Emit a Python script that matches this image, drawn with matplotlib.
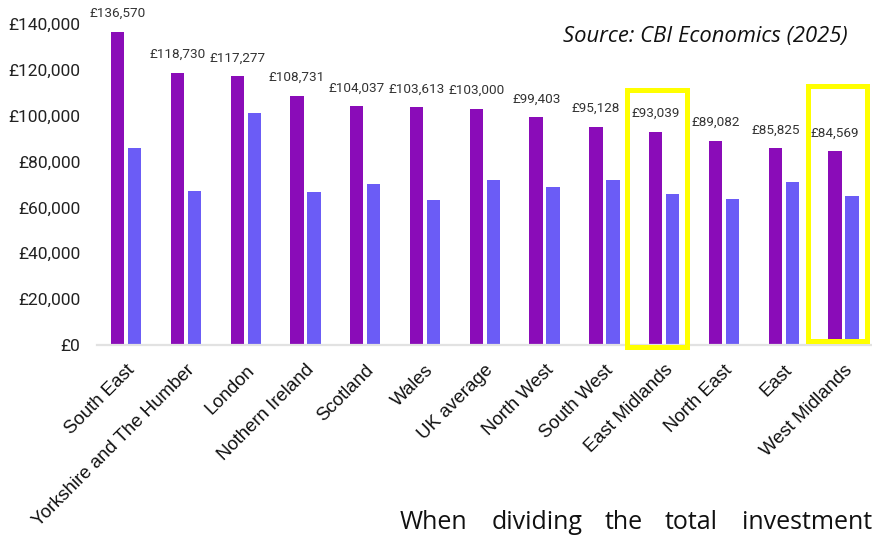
import matplotlib
matplotlib.use("Agg")
import matplotlib.pyplot as plt
from matplotlib.patches import Rectangle
from matplotlib.ticker import FuncFormatter
import numpy as np

# ---- data -------------------------------------------------------------
regions = [
    "South East", "Yorkshire and The Humber", "London", "Nothern Ireland",
    "Scotland", "Wales", "UK average", "North West", "South West",
    "East Midlands", "North East", "East", "West Midlands",
]
values_primary = [136570, 118730, 117277, 108731, 104037, 103613, 103000,
                  99403, 95128, 93039, 89082, 85825, 84569]
values_secondary = [86000, 67000, 101200, 66700, 70200, 63200, 71800,
                    68900, 72100, 66000, 63600, 71200, 64800]
highlighted = ["East Midlands", "West Midlands"]
y_ticks = [0, 20000, 40000, 60000, 80000, 100000, 120000, 140000]

# ---- styling ----------------------------------------------------------
PURPLE = "#8a0cb8"
BLUE = "#6b5cf6"
YELLOW = "#ffff00"
W, H = 872, 541

fig = plt.figure(figsize=(W / 100, H / 100), dpi=100)
fig.patch.set_facecolor("white")

# axes placed in pixel terms: left 97, right 872, baseline 345, top 24
ax = fig.add_axes([97 / W, (H - 345) / H, (872 - 97) / W, (345 - 23.8) / H])

x = np.arange(len(regions))
bw = 0.223
off = 0.142
ax.bar(x - off, values_primary, width=bw, color=PURPLE, zorder=2)
ax.bar(x + off, values_secondary, width=bw, color=BLUE, zorder=2)

ax.set_xlim(-0.488, 12.476)
ax.set_ylim(0, 140000)

# value labels above the first series
for xi, v in zip(x, values_primary):
    ax.annotate(f"£{v:,}", (xi - off, v), xytext=(0, 13),
                textcoords="offset points", ha="center", va="center",
                fontsize=9.7, family="Roboto", color="#333333",
                annotation_clip=False)

# axes cosmetics
for s in ("top", "right", "left"):
    ax.spines[s].set_visible(False)
ax.spines["bottom"].set_color("#e2e2e2")
ax.spines["bottom"].set_linewidth(1.6)

ax.set_yticks(y_ticks)
ax.yaxis.set_major_formatter(FuncFormatter(lambda v, p: f"£{int(v):,}"))
ax.tick_params(axis="y", length=0, pad=12, labelsize=12.5, labelcolor="#222222")
for t in ax.get_yticklabels():
    t.set_family("Roboto")

ax.set_xticks(x)
ax.set_xticklabels(regions)
ax.tick_params(axis="x", length=0, pad=12, labelsize=13.4, labelcolor="#111111")
for t in ax.get_xticklabels():
    t.set_family("Liberation Sans")
    t.set_rotation(45)
    t.set_ha("right")
    t.set_rotation_mode("anchor")

# yellow highlight boxes (left pad, right pad, bottom, top) in data units
box_geom = {
    "East Midlands": (0.622, 0.381, -870, 110940),
    "West Midlands": (0.594, 0.385, 1744, 112690),
}
for name in highlighted:
    i = regions.index(name)
    lp, rp, yb, yt = box_geom[name]
    ax.add_patch(Rectangle((i - lp, yb), lp + rp, yt - yb, fill=False,
                           edgecolor=YELLOW, linewidth=3.6, clip_on=False,
                           zorder=5, joinstyle="miter"))

# source note
fig.text(848 / W, (H - 42) / H, "Source: CBI Economics (2025)",
         ha="right", va="baseline", fontsize=15.8, style="italic",
         family="Open Sans", color="#111111")

# justified body text line beneath the chart
words = ["When", "dividing", "the", "total", "investment"]
word_x = [400, 491.7, 605, 665, 741.7]
for wd, wx in zip(words, word_x):
    fig.text(wx / W, (H - 529) / H, wd, ha="left", va="baseline",
             fontsize=18, family="Open Sans", color="#111111")

fig.savefig("out.png", dpi=100, facecolor="white")
